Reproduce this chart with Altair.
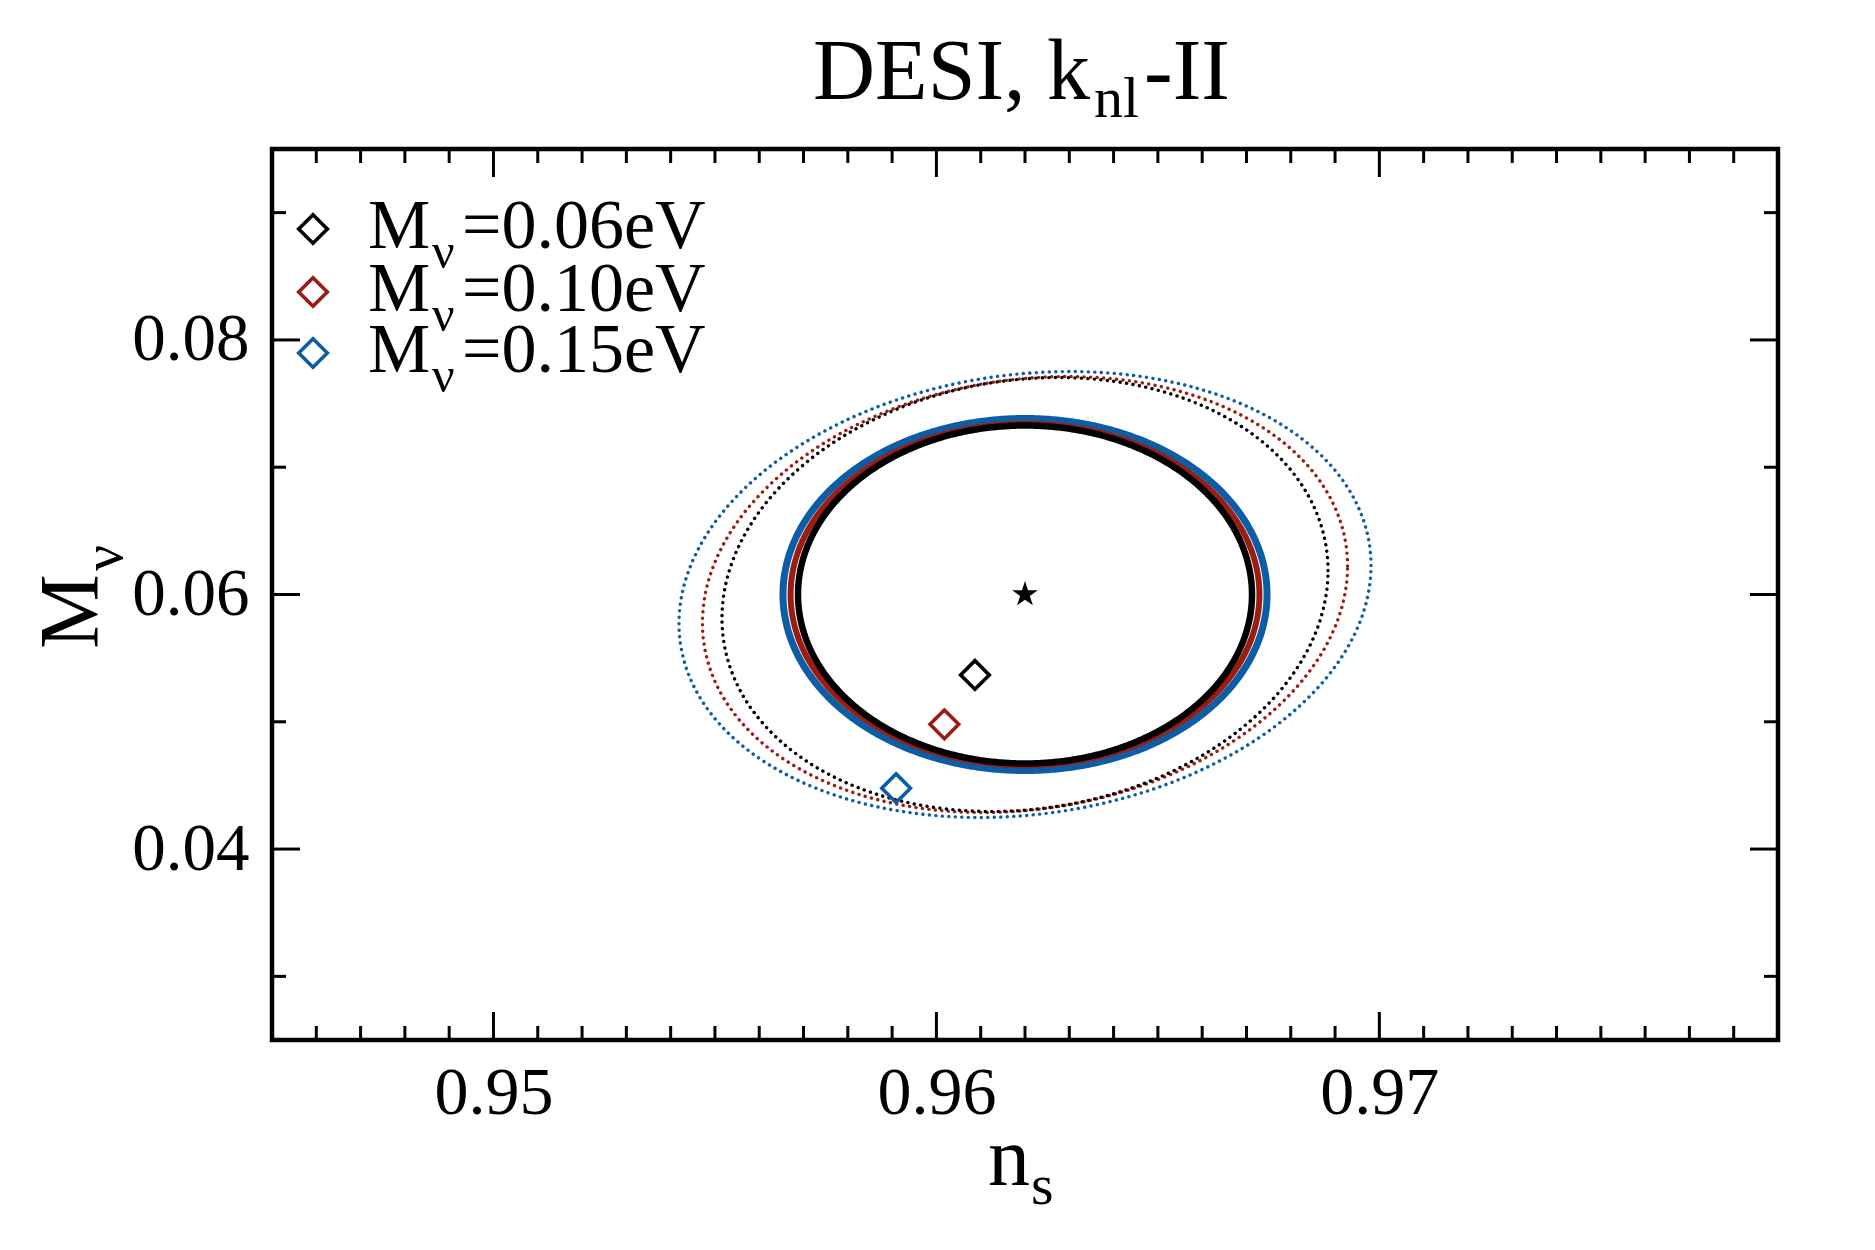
import altair as alt
import numpy as np
import pandas as pd

FONT = "Liberation Serif"

# plot area (pixels) and axis ranges
W, H = 1506, 891
NS_RANGE = [0.945, 0.979]
MNU_RANGE = [0.025, 0.095]

# fiducial cosmology
fid_ns = [0.962]
fid_mnu = [0.060]

# the three neutrino-mass models: black, red, blue
masses = ["0.06", "0.10", "0.15"]
colors = ["#000000", "#9b1c10", "#0c5da5"]

# shifted best-fit points (diamonds)
shift_ns = [0.96087, 0.96018, 0.95909]
shift_mnu = [0.05368, 0.04980, 0.04478]

# 1-sigma Fisher contours around the fiducial: sigma(ns), sigma(Mnu), correlation
solid_sig_ns = [0.005125, 0.005292, 0.005464]
solid_sig_mnu = [0.013276, 0.013410, 0.013826]
solid_rho = [0.0, 0.0, 0.0]
solid_width = [6.5, 6.0, 7.0]

dotted_sig_ns = [0.006841, 0.007282, 0.007812]
dotted_sig_mnu = [0.017047, 0.017125, 0.017518]
dotted_rho = [0.11, 0.13, 0.13]

# axis ticks
x_major = [0.95, 0.96, 0.97]
x_minor = [round(0.945 + 0.001 * i, 3) for i in range(1, 34)]
x_minor = [v for v in x_minor if v not in x_major]
y_major = [0.04, 0.06, 0.08]
y_minor = [0.03, 0.05, 0.07, 0.09]
MAJOR_LEN, MINOR_LEN = 28, 14

xscale = alt.Scale(domain=NS_RANGE, nice=False, zero=False)
yscale = alt.Scale(domain=MNU_RANGE, nice=False, zero=False)
xaxis = alt.Axis(values=x_major, format=".2f", ticks=False, tickSize=0, domain=False,
                 grid=False, labelFont=FONT, labelFontSize=68, labelPadding=19,
                 labelColor="black")
yaxis = alt.Axis(values=y_major, format=".2f", ticks=False, tickSize=0, domain=False,
                 grid=False, labelFont=FONT, labelFontSize=67, labelPadding=23,
                 labelColor="black")
X = alt.X("ns:Q", scale=xscale, axis=xaxis, title=None)
Y = alt.Y("mnu:Q", scale=yscale, axis=yaxis, title=None)


def contour(sx, sy, rho, n=721):
    t = np.linspace(0.0, 2.0 * np.pi, n)
    ns = fid_ns[0] + sx * np.cos(t)
    mnu = fid_mnu[0] + sy * (rho * np.cos(t) + np.sqrt(1.0 - rho ** 2) * np.sin(t))
    return pd.DataFrame({"ns": ns, "mnu": mnu, "k": np.arange(n)})


layers = []

# dotted contours, blue first so black ends on top
for i in [2, 1, 0]:
    layers.append(
        alt.Chart(contour(dotted_sig_ns[i], dotted_sig_mnu[i], dotted_rho[i]))
        .mark_line(color=colors[i], strokeWidth=3.4, strokeDash=[0.1, 6.4], strokeCap="round")
        .encode(x=X, y=Y, order="k:Q")
    )

# solid contours
for i in [2, 1, 0]:
    layers.append(
        alt.Chart(contour(solid_sig_ns[i], solid_sig_mnu[i], solid_rho[i]))
        .mark_line(color=colors[i], strokeWidth=solid_width[i])
        .encode(x=X, y=Y, order="k:Q")
    )

# shifted best-fit diamonds
diam = pd.DataFrame({"ns": shift_ns, "mnu": shift_mnu, "c": colors})
layers.append(
    alt.Chart(diam)
    .mark_point(shape="diamond", filled=False, size=820, strokeWidth=3.6, opacity=1)
    .encode(x=X, y=Y, color=alt.Color("c:N", scale=None))
)

# fiducial star
STAR = ("M0,-1L0.2245,-0.309L0.951,-0.309L0.363,0.118L0.588,0.809L0,0.382"
        "L-0.588,0.809L-0.363,0.118L-0.951,-0.309L-0.2245,-0.309Z")
layers.append(
    alt.Chart(pd.DataFrame({"ns": fid_ns, "mnu": fid_mnu}))
    .mark_point(shape=STAR, filled=True, size=720, color="black", opacity=1)
    .encode(x=X, y=Y)
)


# inward ticks on all four sides
def xticks(values, length):
    df = pd.DataFrame({"ns": values})
    bottom = alt.Chart(df).mark_rule(color="black", strokeWidth=3).encode(
        x=X, y=alt.value(H), y2=alt.value(H - length))
    top = alt.Chart(df).mark_rule(color="black", strokeWidth=3).encode(
        x=X, y=alt.value(0), y2=alt.value(length))
    return [bottom, top]


def yticks(values, length):
    df = pd.DataFrame({"mnu": values})
    left = alt.Chart(df).mark_rule(color="black", strokeWidth=3).encode(
        y=Y, x=alt.value(0), x2=alt.value(length))
    right = alt.Chart(df).mark_rule(color="black", strokeWidth=3).encode(
        y=Y, x=alt.value(W), x2=alt.value(W - length))
    return [left, right]


layers += xticks(x_major, MAJOR_LEN) + xticks(x_minor, MINOR_LEN)
layers += yticks(y_major, MAJOR_LEN) + yticks(y_minor, MINOR_LEN)


def text(t, x, y, size, angle=0, align="left", color="black"):
    props = dict(text=t, font=FONT, fontSize=size, align=align, baseline="alphabetic",
                 color=color)
    if angle:
        props["angle"] = angle
    return alt.Chart(pd.DataFrame({"k": [0]})).mark_text(**props).encode(
        x=alt.value(x), y=alt.value(y))


# legend
leg_y = [80, 143, 204]
for i, m in enumerate(masses):
    layers.append(
        alt.Chart(pd.DataFrame({"k": [0]}))
        .mark_point(shape="diamond", filled=False, size=820, strokeWidth=3.6,
                    color=colors[i], opacity=1)
        .encode(x=alt.value(41), y=alt.value(leg_y[i]))
    )
    base = leg_y[i] + 19
    layers.append(text("M", 96, base, 70))
    layers.append(text("ν", 160, base + 20, 50))
    layers.append(text("=" + m + "eV", 190, base, 70))

# title
layers.append(text("DESI, k", 541, -50, 86))
layers.append(text("nl", 822, -32, 58))
layers.append(text("-II", 872, -50, 86))

# axis titles
layers.append(text("n", 716, 1036, 84))
layers.append(text("s", 759, 1055, 58))
layers.append(text("M", -174, 500, 84, angle=270))
layers.append(text("ν", -150, 422, 58, angle=270))

chart = (
    alt.layer(*layers)
    .properties(width=W, height=H, autosize=alt.AutoSizeParams(type="none"),
                padding={"left": 272, "top": 149, "right": 1875 - 272 - W,
                         "bottom": 1250 - 149 - H},
                background="white")
    .configure_view(stroke="black", strokeWidth=4.5)
)

chart.save("out.html", embed_options={"renderer": "svg", "actions": False})
